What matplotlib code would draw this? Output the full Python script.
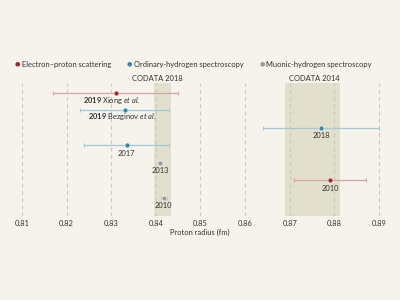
import matplotlib
matplotlib.use("Agg")
import matplotlib.pyplot as plt

plt.rcParams['font.family'] = ['Lato', 'DejaVu Sans']
plt.rcParams['mathtext.fontset'] = 'custom'
plt.rcParams['mathtext.rm'] = 'Lato'
plt.rcParams['mathtext.bf'] = 'Lato:bold'
plt.rcParams['mathtext.it'] = 'Lato:italic'

# measurements (fm), one row each, top to bottom
labels = ["2019 Xiong", "2019 Bezginov", "2018", "2017", "2013", "2010", "2010"]
kinds = ["ep", "H", "H", "H", "mu", "ep", "mu"]
radius = [0.831, 0.833, 0.877, 0.8335, 0.8409, 0.879, 0.8418]
err = [0.014, 0.010, 0.013, 0.0095, 0.0004, 0.008, 0.0007]

codata_names = ["CODATA 2018", "CODATA 2014"]
codata_val = [0.8414, 0.8751]
codata_err = [0.0019, 0.0061]

ticks = [0.81, 0.82, 0.83, 0.84, 0.85, 0.86, 0.87, 0.88, 0.89]

bg = "#f5f3ec"
txt = "#333333"
dot_col = {"ep": "#a8262b", "H": "#2a8fae", "mu": "#9a9a9a"}
bar_col = {"ep": "#dba3a3", "H": "#9fcad6", "mu": "#c0c0c0"}
legend_names = {"ep": "Electron–proton scattering",
                "H": "Ordinary-hydrogen spectroscopy",
                "mu": "Muonic-hydrogen spectroscopy"}

fig = plt.figure(figsize=(4, 3), dpi=100, facecolor=bg)
ax = fig.add_axes([0, 84 / 300, 1, 133 / 300])
ax.set_facecolor(bg)
ax.set_xlim(0.8051, 0.8947)
ax.set_ylim(7.03, -0.57)

for v, e in zip(codata_val, codata_err):
    ax.axvspan(v - e, v + e, color="#e2dfcc", lw=0, zorder=0)
for t in ticks:
    ax.axvline(t, color="#c8c8c4", lw=0.8, ls=(0, (3.5, 3)), zorder=1)

for i, (k, r, e) in enumerate(zip(kinds, radius, err)):
    ax.errorbar(r, i, xerr=e, fmt="none", ecolor=bar_col[k], elinewidth=0.9,
                capsize=1.5, capthick=0.8, zorder=2)
    ax.plot(r, i, "o", color=dot_col[k], ms=3.6, mec="white", mew=0.4, zorder=3)

# point labels
fs = 5.4
off = 0.42
ax.text(0.8301, off, r"$\bf{2019}$ Xiong $\it{et\ al.}$", ha="center",
        va="center", fontsize=fs, color=txt)
ax.text(0.8325, 1 + off - 0.05, r"$\bf{2019}$ Bezginov $\it{et\ al.}$", ha="center",
        va="center", fontsize=fs, color=txt)
for i in range(2, 7):
    ax.text(radius[i], i + off + 0.03, labels[i], ha="center", va="center",
            fontsize=fs, color=txt)

label_x = [0.8404, 0.8754]
for name, x in zip(codata_names, label_x):
    ax.text(x, -0.8, name, ha="center", va="center", fontsize=fs, color=txt,
            clip_on=False)

ax.set_xticks(ticks)
ax.set_xticklabels([f"{t:.2f}" for t in ticks], fontsize=fs, color=txt)
ax.tick_params(axis="x", length=0, pad=3)
ax.set_yticks([])
for s in ax.spines.values():
    s.set_visible(False)
ax.set_xlabel("Proton radius (fm)", fontsize=fs, color=txt, labelpad=1.5)

# legend
lx = [17 / 400, 129 / 400, 262 / 400]
for x, k in zip(lx, ["ep", "H", "mu"]):
    fig.text(x, 1 - 64 / 300, "●", color=dot_col[k], fontsize=4.5, ha="center",
             va="center", family="DejaVu Sans")
    fig.text(x + 4.5 / 400, 1 - 64 / 300, legend_names[k], fontsize=fs,
             va="center", color=txt)

fig.savefig("out.png", dpi=100, facecolor=bg)
